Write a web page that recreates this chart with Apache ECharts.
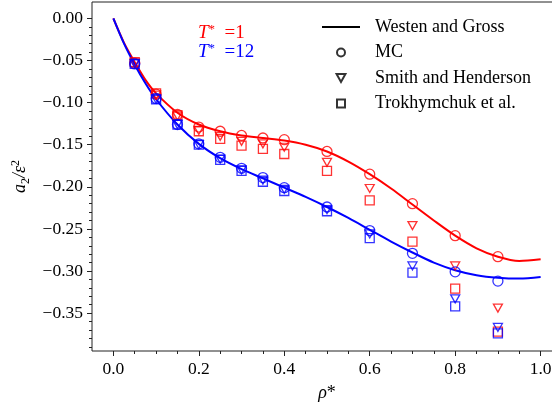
<!DOCTYPE html>
<html>
<head>
<meta charset="utf-8">
<script src="https://cdn.jsdelivr.net/npm/echarts@6/dist/echarts.min.js"></script>
<style>html,body{margin:0;padding:0;background:#fff}#c{width:552px;height:404px}</style>
</head>
<body>
<div id="c"></div>
<script>
// ---- data ----
var xTicks = [0, 0.2, 0.4, 0.6, 0.8, 1.0];
var yTicks = [0, -0.05, -0.10, -0.15, -0.20, -0.25, -0.30, -0.35];

var wgX = [0, 0.025, 0.05, 0.075, 0.1, 0.15, 0.2, 0.25, 0.3, 0.35, 0.4, 0.45, 0.5, 0.55, 0.6, 0.65, 0.7, 0.75, 0.8, 0.85, 0.9, 0.95, 1.0];
var wgT1 = [0, -0.029, -0.052, -0.073, -0.089, -0.112, -0.126, -0.134, -0.139, -0.142, -0.145, -0.150, -0.158, -0.170, -0.185, -0.202, -0.221, -0.240, -0.258, -0.273, -0.283, -0.288, -0.286];
var wgT12 = [0, -0.030, -0.055, -0.077, -0.096, -0.126, -0.149, -0.166, -0.179, -0.190, -0.201, -0.212, -0.224, -0.237, -0.251, -0.265, -0.278, -0.290, -0.299, -0.305, -0.308, -0.309, -0.307];

var rhoPts = [0.05, 0.1, 0.15, 0.2, 0.25, 0.3, 0.35, 0.4, 0.5, 0.6, 0.7, 0.8, 0.9];
var mcT1 = [-0.053, -0.090, -0.114, -0.129, -0.134, -0.139, -0.142, -0.144, -0.158, -0.185, -0.220, -0.258, -0.283];
var shT1 = [-0.053, -0.091, -0.116, -0.133, -0.140, -0.146, -0.149, -0.153, -0.171, -0.202, -0.246, -0.294, -0.344];
var trT1 = [-0.052, -0.089, -0.115, -0.134, -0.143, -0.151, -0.155, -0.161, -0.181, -0.216, -0.265, -0.321, -0.372];
var mcT12 = [-0.054, -0.095, -0.126, -0.149, -0.165, -0.178, -0.189, -0.201, -0.224, -0.252, -0.279, -0.301, -0.312];
var shT12 = [-0.054, -0.096, -0.126, -0.150, -0.167, -0.180, -0.192, -0.203, -0.227, -0.256, -0.294, -0.333, -0.367];
var trT12 = [-0.054, -0.096, -0.126, -0.150, -0.168, -0.181, -0.194, -0.205, -0.229, -0.261, -0.302, -0.342, -0.374];

var legendNames = ['Westen and Gross', 'MC', 'Smith and Henderson', 'Trokhymchuk et al.'];

// ---- helpers ----
function pairs(xs, ys) { return xs.map(function (x, i) { return [x, ys[i]]; }); }
var xMinor = [], yMinor = [];
for (var i = 1; i <= 20; i++) { var v = Math.round(i * 5) / 100; if (i % 4 !== 0) xMinor.push(v); }
for (var j = 1; j <= 39; j++) { if (j % 5 !== 0) yMinor.push(-j / 100); }

var RED = '#ff0000', BLUE = '#0000ff';
var FONT = '"Liberation Serif", "DejaVu Serif", serif';
var TRI = 'path://M0,0 L10,0 L5,9 Z';
var SQ = 'path://M0,0 L10,0 L10,10 L0,10 Z';
var LINEICON = 'path://M0,0 L40,0 L40,2 L0,2 Z';

function fmt(v) {
  var a = Math.abs(v);
  if (a < 1e-9) return '0.00';
  return (v < 0 ? '\u2212' : '') + a.toFixed(2);
}

function scatter(name, ys, color, symbol, size) {
  return {
    name: name, type: 'scatter', data: pairs(rhoPts, ys),
    symbol: symbol, symbolSize: size,
    itemStyle: { color: 'rgba(0,0,0,0)', borderColor: color, borderWidth: 1.3 },
    z: 3, silent: true
  };
}

var hollowBlack = { color: 'rgba(0,0,0,0)', borderColor: '#000', borderWidth: 1.2 };

var chart = echarts.init(document.getElementById('c'), null, { renderer: 'canvas' });
var option = {
  animation: false,
  backgroundColor: '#fff',
  grid: { left: 92, width: 470, top: 2, height: 349, outerBoundsMode: 'none', containLabel: false, show: true, borderColor: '#222', borderWidth: 1, backgroundColor: 'rgba(0,0,0,0)' },
  xAxis: [{
    type: 'value', min: -0.05, max: 1.05,
    axisLine: { show: false, onZero: false },
    splitLine: { show: false },
    axisTick: { show: true, length: 5, customValues: xTicks, lineStyle: { color: '#222', width: 1 } },
    axisLabel: { customValues: xTicks, margin: 9, color: '#000', fontFamily: FONT, fontSize: 17.5, formatter: function (v) { return v.toFixed(1); } },
    name: '{i|\u03c1}{n|*}', nameLocation: 'middle', nameGap: 33,
    nameTextStyle: { rich: { i: { fontFamily: FONT, fontStyle: 'italic', fontSize: 18, color: '#000' }, n: { fontFamily: FONT, fontSize: 18, color: '#000' } } }
  }, {
    type: 'value', min: -0.05, max: 1.05, position: 'bottom',
    axisLine: { show: false, onZero: false }, splitLine: { show: false },
    axisTick: { show: true, length: 3, customValues: xMinor, lineStyle: { color: '#222', width: 1 } },
    axisLabel: { show: false }
  }],
  yAxis: [{
    type: 'value', min: -0.395, max: 0.0195,
    axisLine: { show: false, onZero: false },
    splitLine: { show: false },
    axisTick: { show: true, length: 5, customValues: yTicks, lineStyle: { color: '#222', width: 1 } },
    axisLabel: { customValues: yTicks, margin: 9, color: '#000', fontFamily: FONT, fontSize: 17.5, formatter: fmt },
    name: '{i|a}{sb|2}{i|/\u03b5}{sp|2}', nameLocation: 'middle', nameGap: 56, nameRotate: 90,
    nameTextStyle: { rich: {
      i: { fontFamily: FONT, fontStyle: 'italic', fontSize: 18, color: '#000', lineHeight: 22 },
      sb: { fontFamily: FONT, fontSize: 12, color: '#000', verticalAlign: 'bottom', lineHeight: 22 },
      sp: { fontFamily: FONT, fontSize: 12, color: '#000', verticalAlign: 'top', lineHeight: 22 }
    } }
  }, {
    type: 'value', min: -0.395, max: 0.0195, position: 'left',
    axisLine: { show: false, onZero: false }, splitLine: { show: false },
    axisTick: { show: true, length: 3, customValues: yMinor, lineStyle: { color: '#222', width: 1 } },
    axisLabel: { show: false }
  }],
  legend: {
    orient: 'vertical', left: 317, top: 12, itemWidth: 38, itemHeight: 8, itemGap: 5.5,
    data: [
      { name: legendNames[0], icon: LINEICON, itemStyle: { color: '#000', borderWidth: 0 } },
      { name: legendNames[1], icon: 'circle' },
      { name: legendNames[2], icon: TRI },
      { name: legendNames[3], icon: SQ }
    ],
    selectedMode: false,
    textStyle: { fontFamily: FONT, fontSize: 18, color: '#000', lineHeight: 20, padding: [0, 0, 0, 10] }
  },
  graphic: [
    { type: 'text', left: 198, top: 23, silent: true, style: { text: '{t|T}{s|*}{n|  =1}', rich: {
      t: { fontFamily: FONT, fontStyle: 'italic', fontSize: 19, fill: RED, lineHeight: 20 },
      s: { fontFamily: FONT, fontSize: 13, fill: RED, verticalAlign: 'top', lineHeight: 20 },
      n: { fontFamily: FONT, fontSize: 19, fill: RED, lineHeight: 20 } } } },
    { type: 'text', left: 198, top: 42, silent: true, style: { text: '{t|T}{s|*}{n|  =12}', rich: {
      t: { fontFamily: FONT, fontStyle: 'italic', fontSize: 19, fill: BLUE, lineHeight: 20 },
      s: { fontFamily: FONT, fontSize: 13, fill: BLUE, verticalAlign: 'top', lineHeight: 20 },
      n: { fontFamily: FONT, fontSize: 19, fill: BLUE, lineHeight: 20 } } } }
  ],
  series: [
    { name: 'WG1', type: 'line', data: pairs(wgX, wgT1), smooth: 0.3, showSymbol: false, symbol: 'none', lineStyle: { color: RED, width: 2 }, itemStyle: { color: RED }, z: 2, silent: true },
    { name: 'WG12', type: 'line', data: pairs(wgX, wgT12), smooth: 0.3, showSymbol: false, symbol: 'none', lineStyle: { color: BLUE, width: 2 }, itemStyle: { color: BLUE }, z: 2, silent: true },
    scatter('MC1', mcT1, RED, 'circle', 10),
    scatter('SH1', shT1, RED, TRI, [9, 8]),
    scatter('TR1', trT1, RED, 'rect', 9),
    scatter('MC12', mcT12, BLUE, 'circle', 10),
    scatter('SH12', shT12, BLUE, TRI, [9, 8]),
    scatter('TR12', trT12, BLUE, 'rect', 9),
    // legend-only entries
    { name: 'Westen and Gross', type: 'line', data: [], symbol: 'none', lineStyle: { color: '#000', width: 2 }, itemStyle: { color: '#000' } },
    { name: 'MC', type: 'scatter', data: [], symbol: 'circle', itemStyle: hollowBlack },
    { name: 'Smith and Henderson', type: 'scatter', data: [], symbol: TRI, itemStyle: hollowBlack },
    { name: 'Trokhymchuk et al.', type: 'scatter', data: [], symbol: SQ, itemStyle: hollowBlack }
  ]
};
chart.setOption(option);
</script>
</body>
</html>
